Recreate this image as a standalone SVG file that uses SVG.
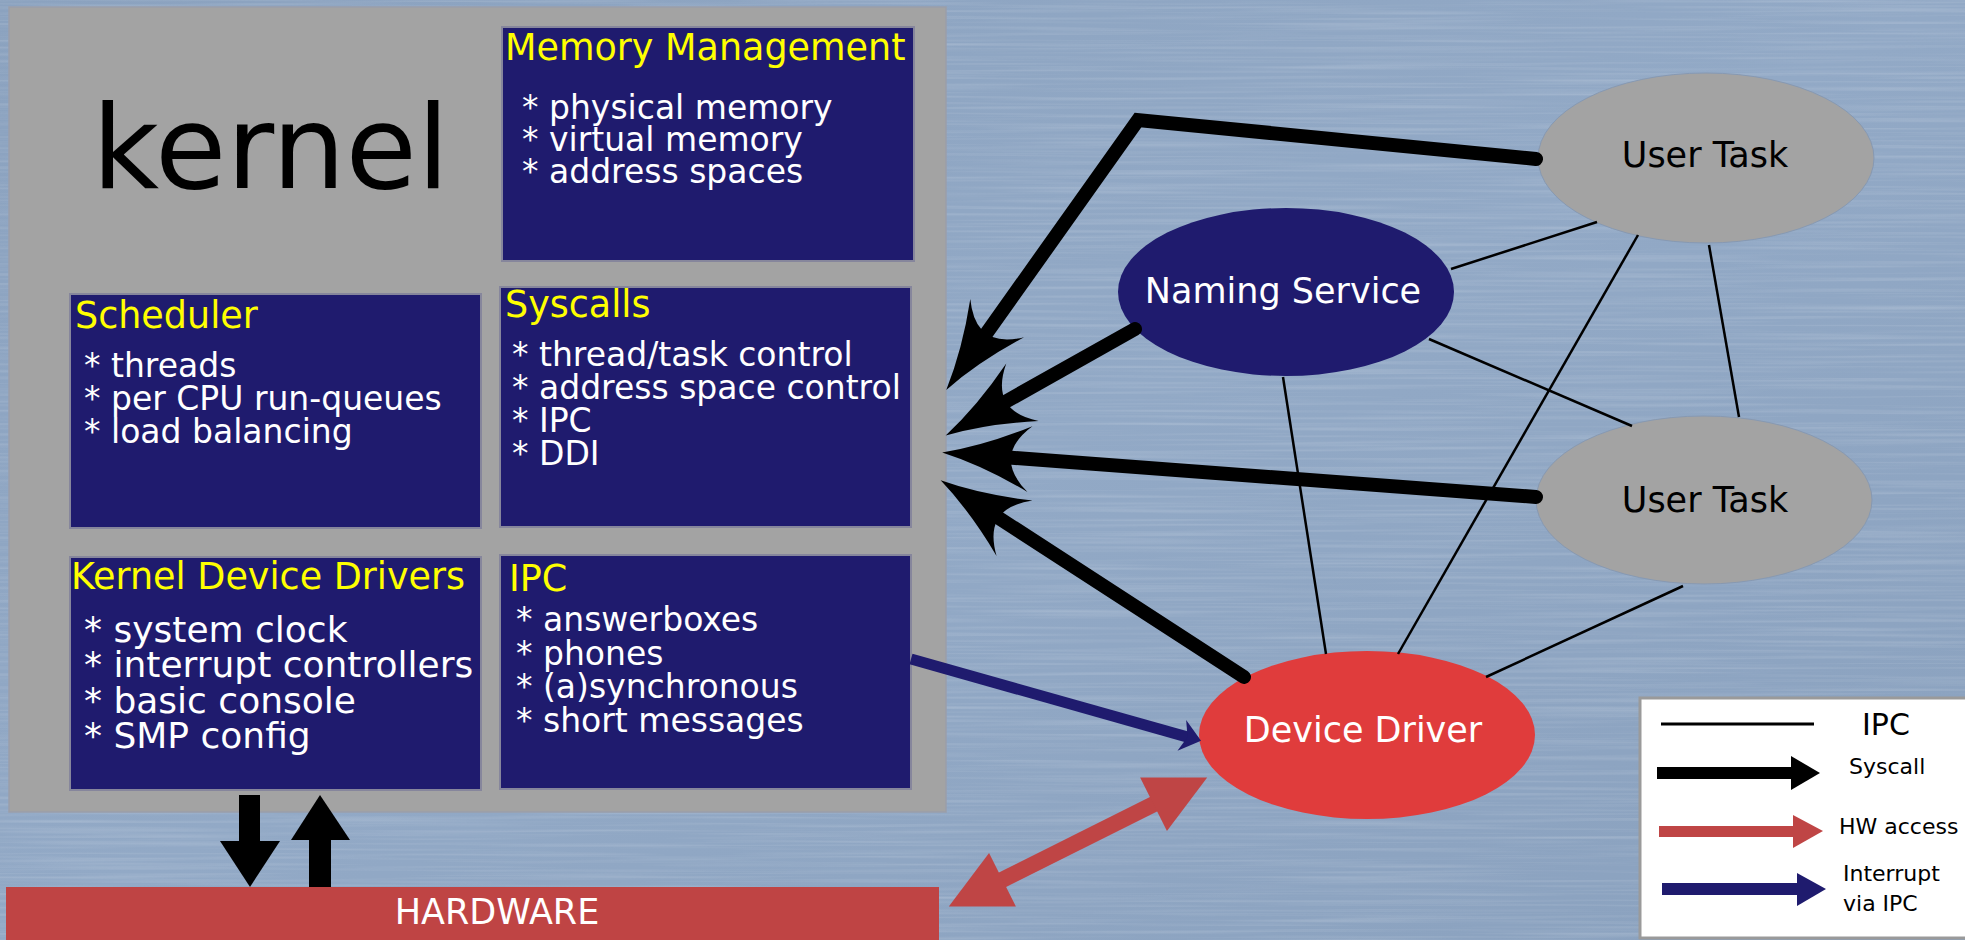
<svg xmlns="http://www.w3.org/2000/svg" width="1965" height="940" viewBox="0 0 1965 940">
<style>
  text { font-family: "DejaVu Sans", "Noto Sans", sans-serif; }
  .title { font-size: 36.5px; fill: #ffff00; }
  .body { font-size: 33px; fill: #ffffff; }
  .bodyL { font-size: 36px; fill: #ffffff; }
  .box { fill: #1f1b6e; stroke: #86869c; stroke-width: 2; }
  .ipc { stroke: #000000; stroke-width: 2.5; fill: none; }
  .sys { stroke: #000000; stroke-width: 14; fill: none; stroke-linecap: round; stroke-linejoin: miter; marker-end: url(#sysHead); }
  .ell-gray { fill: #a3a3a3; stroke: #8799b2; stroke-width: 1; }
  .node-text { font-size: 35px; text-anchor: middle; }
  .legend-text { font-size: 22px; fill: #000000; }
</style>
<defs>
  <linearGradient id="bg" x1="0" y1="0" x2="1" y2="1">
    <stop offset="0" stop-color="#8ba2bf"/>
    <stop offset="0.5" stop-color="#92a9c6"/>
    <stop offset="1" stop-color="#8aa1be"/>
  </linearGradient>
  <filter id="brush" x="0" y="0" width="100%" height="100%">
    <feTurbulence type="fractalNoise" baseFrequency="0.004 0.3" numOctaves="2" seed="7" result="n"/>
    <feColorMatrix in="n" type="matrix" values="0 0 0 0 1  0 0 0 0 1  0 0 0 0 1  0.7 0 0 0 -0.3"/>
  </filter>
  <marker id="sysHead" markerUnits="userSpaceOnUse" viewBox="-95 -40 100 80" markerWidth="100" markerHeight="80" refX="-60" refY="0" orient="auto">
    <path d="M0,0 Q-42,-10 -88,-33 Q-50,0 -88,33 Q-42,10 0,0 Z" fill="#000000"/>
  </marker>
  <marker id="irqHead" markerUnits="userSpaceOnUse" viewBox="-25 -20 30 40" markerWidth="30" markerHeight="40" refX="-12" refY="0" orient="auto">
    <path d="M0,0 L-20,-16 L-14,0 L-20,16 Z" fill="#1f1b6e"/>
  </marker>
  <marker id="hwHead" markerUnits="userSpaceOnUse" viewBox="-65 -35 70 70" markerWidth="70" markerHeight="70" refX="-55" refY="0" orient="auto-start-reverse">
    <path d="M0,0 L-60,-30 L-60,30 Z" fill="#bf4545"/>
  </marker>
</defs>

<!-- background -->
<rect x="0" y="0" width="1965" height="940" fill="url(#bg)"/>
<rect x="0" y="0" width="1965" height="940" filter="url(#brush)" opacity="0.5"/>

<g id="kernel">
  <rect x="9" y="7" width="937" height="805" fill="#a3a3a3" stroke="#9a9eaa" stroke-width="1.5"/>
  <text x="92" y="188" font-size="116" fill="#000000">kernel</text>
</g>

<g id="memory-management">
  <rect class="box" x="502" y="27" width="412" height="234"/>
  <text class="title" x="505" y="60">Memory Management</text>
  <text class="body" x="522" y="119">* physical memory</text>
  <text class="body" x="522" y="151">* virtual memory</text>
  <text class="body" x="522" y="183">* address spaces</text>
</g>

<g id="scheduler">
  <rect class="box" x="70" y="294" width="411" height="234"/>
  <text class="title" x="75" y="328">Scheduler</text>
  <text class="body" x="84" y="377">* threads</text>
  <text class="body" x="84" y="410">* per CPU run-queues</text>
  <text class="body" x="84" y="443">* load balancing</text>
</g>

<g id="syscalls">
  <rect class="box" x="500" y="287" width="411" height="240"/>
  <text class="title" x="505" y="317">Syscalls</text>
  <text class="body" x="512" y="366">* thread/task control</text>
  <text class="body" x="512" y="399">* address space control</text>
  <text class="body" x="512" y="432">* IPC</text>
  <text class="body" x="512" y="465">* DDI</text>
</g>

<g id="kernel-device-drivers">
  <rect class="box" x="70" y="557" width="411" height="233"/>
  <text class="title" x="71" y="589">Kernel Device Drivers</text>
  <text class="bodyL" x="84" y="642">* system clock</text>
  <text class="bodyL" x="84" y="677">* interrupt controllers</text>
  <text class="bodyL" x="84" y="713">* basic console</text>
  <text class="bodyL" x="84" y="748">* SMP config</text>
</g>

<g id="ipc">
  <rect class="box" x="500" y="555" width="411" height="234"/>
  <text class="title" x="509" y="591">IPC</text>
  <text class="body" x="516" y="631">* answerboxes</text>
  <text class="body" x="516" y="665">* phones</text>
  <text class="body" x="516" y="698">* (a)synchronous</text>
  <text class="body" x="516" y="732">* short messages</text>
</g>

<g id="hardware">
  <rect x="6" y="887" width="933" height="60" fill="#bf4444"/>
  <text x="497" y="924" font-size="35" fill="#ffffff" text-anchor="middle">HARDWARE</text>
</g>

<g id="user-task-1">
  <ellipse class="ell-gray" cx="1706" cy="158" rx="168" ry="85"/>
  <text class="node-text" x="1705" y="167" fill="#000000">User Task</text>
</g>

<g id="naming-service">
  <ellipse cx="1286" cy="292" rx="168" ry="84" fill="#1f1b6e"/>
  <text class="node-text" x="1283" y="303" font-size="34" fill="#ffffff">Naming Service</text>
</g>

<g id="user-task-2">
  <ellipse class="ell-gray" cx="1704" cy="500" rx="168" ry="84"/>
  <text class="node-text" x="1705" y="512" fill="#000000">User Task</text>
</g>

<g id="device-driver">
  <ellipse cx="1367" cy="735" rx="168" ry="84" fill="#e03c3c"/>
  <text class="node-text" x="1363" y="742" font-size="36.5" fill="#ffffff">Device Driver</text>
</g>

<g id="connectors">
  <!-- IPC lines -->
  <line class="ipc" x1="1597" y1="222" x2="1451" y2="269"/>
  <line class="ipc" x1="1638" y1="235" x2="1398" y2="654"/>
  <line class="ipc" x1="1709" y1="245" x2="1739" y2="417"/>
  <line class="ipc" x1="1429" y1="339" x2="1632" y2="426"/>
  <line class="ipc" x1="1283" y1="377" x2="1326" y2="654"/>
  <line class="ipc" x1="1683" y1="586" x2="1486" y2="677"/>
  <!-- syscalls -->
  <path class="sys" d="M1536,159 L1138,120 L981,341"/>
  <path class="sys" d="M1135,329 L998,406"/>
  <path class="sys" d="M1536,497 L1002,457"/>
  <path class="sys" d="M1244,677 L991,513"/>
  <!-- interrupt via IPC -->
  <line x1="911" y1="659" x2="1189.5" y2="737.6" stroke="#1f1b6e" stroke-width="11" marker-end="url(#irqHead)"/>
  <!-- HW access -->
  <line x1="998" y1="882" x2="1158" y2="802" stroke="#bf4545" stroke-width="16" marker-start="url(#hwHead)" marker-end="url(#hwHead)"/>
  <!-- kernel <-> hardware -->
  <rect x="239" y="795" width="21" height="47" fill="#000000"/>
  <polygon points="220,841 280,841 250,887" fill="#000000"/>
  <rect x="309" y="839" width="22" height="48" fill="#000000"/>
  <polygon points="291,840 350,840 320,795" fill="#000000"/>
</g>

<g id="legend">
  <rect x="1640" y="698" width="340" height="240" fill="#ffffff" stroke="#9a9a9a" stroke-width="3"/>
  <line x1="1661" y1="724" x2="1814" y2="724" stroke="#000000" stroke-width="3"/>
  <text x="1862" y="735" font-size="30" fill="#000000">IPC</text>
  <rect x="1657" y="767" width="136" height="12" fill="#000000"/>
  <polygon points="1820,773 1791,756 1791,790" fill="#000000"/>
  <text class="legend-text" x="1849" y="774">Syscall</text>
  <rect x="1659" y="826" width="136" height="11" fill="#bf4545"/>
  <polygon points="1823,831 1793,815 1793,848" fill="#bf4545"/>
  <text class="legend-text" x="1839" y="834" font-size="20">HW access</text>
  <rect x="1662" y="883" width="136" height="12" fill="#1f1b6e"/>
  <polygon points="1826,889 1797,873 1797,906" fill="#1f1b6e"/>
  <text class="legend-text" x="1843" y="881">Interrupt</text>
  <text class="legend-text" x="1843" y="911">via IPC</text>
</g>
</svg>
